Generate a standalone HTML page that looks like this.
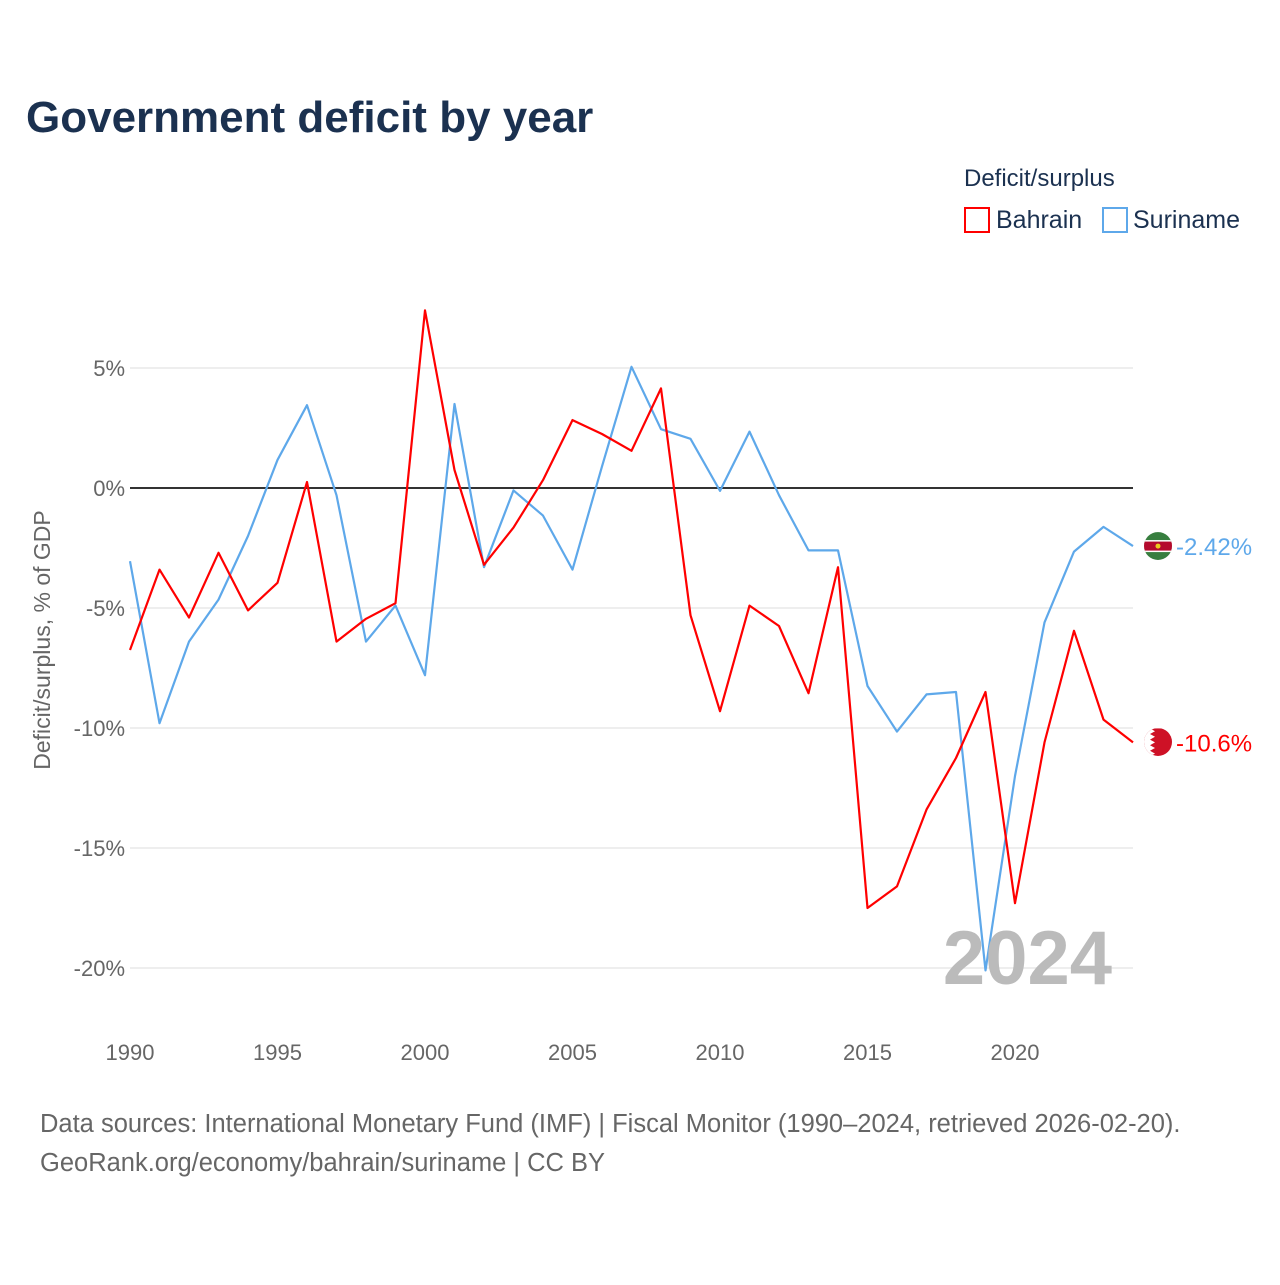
<!DOCTYPE html>
<html><head><meta charset="utf-8"><style>
body{margin:0;background:#fff;font-family:"Liberation Sans",sans-serif}
svg text{font-family:"Liberation Sans",sans-serif}
</style></head><body>
<svg id="chart" width="1280" height="1280" xmlns="http://www.w3.org/2000/svg">
<defs>
<clipPath id="cs"><circle cx="1158" cy="546" r="14"/></clipPath>
<clipPath id="cb"><circle cx="1158" cy="742" r="14"/></clipPath>
</defs>
<text x="26" y="132" font-size="44" font-weight="bold" fill="#1b3150">Government deficit by year</text>
<text x="964" y="186" font-size="24" fill="#1b3150">Deficit/surplus</text>
<g><rect x="965" y="208" width="24" height="24" fill="none" stroke="#f00" stroke-width="2"/><text x="996" y="228" font-size="25" fill="#1b3150">Bahrain</text></g>
<g><rect x="1103" y="208" width="24" height="24" fill="none" stroke="#5ea8ea" stroke-width="2"/><text x="1133" y="228" font-size="25" fill="#1b3150">Suriname</text></g>
<text transform="translate(50,640) rotate(-90)" text-anchor="middle" font-size="23" fill="#666">Deficit/surplus, % of GDP</text>
<g id="grid"></g><g id="marks"></g>
<text x="1112" y="984" text-anchor="end" font-size="76" font-weight="bold" fill="#bbb">2024</text>
<text x="40" y="1132" font-size="25.5" fill="#666">Data sources: International Monetary Fund (IMF) | Fiscal Monitor (1990–2024, retrieved 2026-02-20).</text>
<text x="40" y="1171" font-size="25.5" fill="#666">GeoRank.org/economy/bahrain/suriname | CC BY</text>
</svg>
<script>
const years=[1990,1991,1992,1993,1994,1995,1996,1997,1998,1999,2000,2001,2002,2003,2004,2005,2006,2007,2008,2009,2010,2011,2012,2013,2014,2015,2016,2017,2018,2019,2020,2021,2022,2023,2024];
const bahrain=[-6.75,-3.4,-5.4,-2.7,-5.1,-3.95,0.25,-6.4,-5.45,-4.8,7.4,0.75,-3.2,-1.65,0.33,2.83,2.25,1.55,4.15,-5.3,-9.3,-4.9,-5.75,-8.55,-3.3,-17.5,-16.6,-13.4,-11.25,-8.5,-17.3,-10.6,-5.95,-9.65,-10.6];
const suriname=[-3.05,-9.8,-6.4,-4.65,-2.0,1.17,3.45,-0.3,-6.4,-4.9,-7.8,3.5,-3.3,-0.1,-1.15,-3.4,0.9,5.05,2.45,2.05,-0.12,2.35,-0.3,-2.6,-2.6,-8.25,-10.15,-8.6,-8.5,-20.1,-12.0,-5.6,-2.65,-1.62,-2.42];
const yTicks=[5,0,-5,-10,-15,-20];
const xTicks=[1990,1995,2000,2005,2010,2015,2020];
const NS="http://www.w3.org/2000/svg";
const x=v=>130+(v-1990)*29.5;
const y=v=>488-v*24;
function mk(t,a,p){const e=document.createElementNS(NS,t);for(const k in a)e.setAttribute(k,a[k]);p.appendChild(e);return e;}
const g=document.getElementById('grid'),m=document.getElementById('marks');
yTicks.forEach(t=>{
 const l=mk('line',{x1:130,x2:1133,y1:y(t),y2:y(t),stroke:t===0?'#333':'#e8e8e8','stroke-width':t===0?2:1.5},g);
 
 
 const tx=mk('text',{x:125,y:y(t)+8,'text-anchor':'end','font-size':22,fill:'#666'},g);
 tx.textContent=t+'%';
 
 
});
xTicks.forEach(t=>{
 const tx=mk('text',{x:x(t),y:1060,'text-anchor':'middle','font-size':22,fill:'#666'},g);
 tx.textContent=t;
 
 
});
function line(data,color,name,flag){
 const p=mk('polyline',{points:data.map((v,i)=>x(years[i])+','+y(v)).join(' '),fill:'none',stroke:color,'stroke-width':2.2,'stroke-linejoin':'round'},m);
 
 
 const last=data[data.length-1];
 const cy=y(last);
 const fg=mk('g',{},m);
 
 
 if(flag==='sr'){
  const gg=mk('g',{'clip-path':'url(#cs)'},fg);
  mk('rect',{x:1144,y:cy-14,width:28,height:28,fill:'#377e3f'},gg);
  mk('rect',{x:1144,y:cy-6,width:28,height:12,fill:'#fff'},gg);
  mk('rect',{x:1144,y:cy-4.5,width:28,height:9,fill:'#b40a2d'},gg);
  mk('circle',{cx:1158,cy:cy,r:2.5,fill:'#ecc81d'},gg);
 } else {
  const gg=mk('g',{'clip-path':'url(#cb)'},fg);
  mk('rect',{x:1144,y:cy-14,width:28,height:28,fill:'#ce1126'},gg);
  let pts='1144,'+(cy-14);
  for(let i=0;i<5;i++){const yy=cy-14+i*5.6;pts+=' 1150,'+yy+' 1155,'+(yy+2.8)+' 1150,'+(yy+5.6);}
  pts+=' 1144,'+(cy+14);
  mk('polygon',{points:pts,fill:'#fff'},gg);
 }
 const t=mk('text',{x:1176,y:cy+9,'font-size':24,fill:color},m);
 t.textContent=(Math.round(last*100)/100)+'%';
 
 
}
line(suriname,'#5ea8ea','suriname-line','sr');
line(bahrain,'#f00','bahrain-line','bh');
</script>
</body></html>
